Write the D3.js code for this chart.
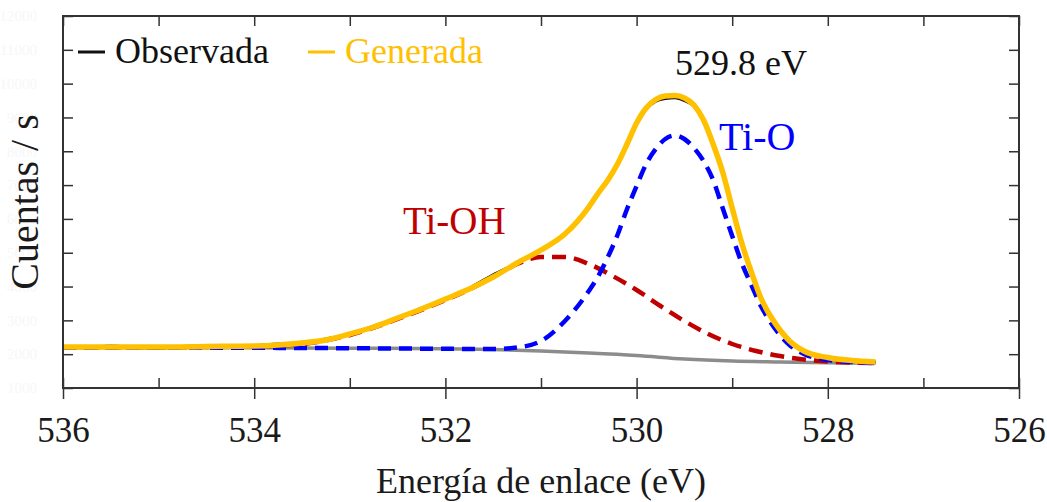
<!DOCTYPE html>
<html>
<head>
<meta charset="utf-8">
<script src="https://cdn.jsdelivr.net/npm/d3@7"></script>
<style>
  body { margin: 0; background: #fff; }
  svg text { font-family: "Liberation Serif", "Times New Roman", Times, "DejaVu Serif", serif; }
</style>
</head>
<body>
<div class="xps-container"></div>
<script>
// binding energy (eV) for the fitted curves
const energies = [536, 535.5, 535, 534.5, 534, 533.75, 533.5, 533.25, 533, 532.75, 532.5, 532.25,
  532, 531.75, 531.5, 531.25, 531, 530.75, 530.5, 530.4, 530.3, 530.2, 530.1, 530, 529.9, 529.8,
  529.7, 529.6, 529.5, 529.4, 529.3, 529.2, 529.1, 529, 528.9, 528.8, 528.7, 528.6, 528.5, 528.4,
  528.25, 528, 527.75, 527.5];

// envelope (Generada)
const generada = [2212, 2212, 2212, 2227, 2242, 2272, 2331, 2419, 2597, 2804, 3070, 3336,
  3632, 3927, 4282, 4696, 5081, 5554, 6352, 6766, 7151, 7624, 8215, 8836, 9280, 9531,
  9634, 9649, 9575, 9368, 8925, 8215, 7387, 6323, 5288, 4430, 3661, 3129, 2715, 2390,
  2094, 1902, 1813, 1769];

// Ti-O component
const tiO = [2198, 2198, 2198, 2194, 2189, 2186, 2183, 2180, 2177, 2172, 2168, 2163,
  2159, 2156, 2153, 2198, 2390, 2981, 3868, 4312, 4874, 5524, 6293, 6973, 7624, 8067,
  8363, 8466, 8363, 8097, 7712, 7151, 6323, 5495, 4696, 4046, 3425, 2952, 2567, 2272,
  2005, 1828, 1769, 1739];

// observed spectrum
const obsEnergies = [536, 535.75, 535.5, 535.25, 535, 534.75, 534.5, 534.25, 534, 533.75, 533.5,
  533.25, 533, 532.75, 532.5, 532.25, 532, 531.75, 531.5, 531.25, 531, 530.75, 530.5, 530.4,
  530.3, 530.2, 530.1, 530, 529.9, 529.8, 529.7, 529.6, 529.5, 529.4, 529.3, 529.2, 529.1,
  529, 528.9, 528.8, 528.7, 528.6, 528.5, 528.4, 528.25, 528, 527.75, 527.5];
const observada = [2230, 2190, 2240, 2200, 2180, 2220, 2210, 2260, 2250, 2300, 2310,
  2450, 2580, 2830, 3060, 3360, 3620, 3950, 4350, 4690, 5080, 5540, 6380, 6800,
  7180, 7650, 8230, 8820, 9250, 9480, 9560, 9580, 9500, 9330, 8900, 8230, 7400,
  6330, 5300, 4420, 3650, 3120, 2700, 2390, 2090, 1900, 1810, 1770];

// Ti-OH component
const ohEnergies = [536, 535, 534, 533.5, 533, 532.5, 532, 531.75, 531.5, 531.25, 531, 530.75,
  530.5, 530.25, 530, 529.75, 529.5, 529.25, 529, 528.75, 528.5, 528.25, 528, 527.75, 527.5];
const tiOH = [2198, 2204, 2227, 2301, 2567, 3040, 3602, 3913, 4282, 4667, 4874, 4874,
  4667, 4312, 3898, 3425, 2981, 2597, 2301, 2094, 1946, 1843, 1784, 1754, 1739];

// background
const bgEnergies = [536, 535, 534, 533, 532, 531.5, 531, 530.5, 530, 529.5, 529, 528.5, 528, 527.5];
const fondo = [2198, 2198, 2189, 2177, 2159, 2138, 2094, 2035, 1961, 1858, 1798, 1769, 1745, 1730];

const xTicksMajor = [536, 534, 532, 530, 528, 526];
const xTicksMinor = [536, 535, 534, 533, 532, 531, 530, 529, 528, 527, 526];
const yTicks = [1000, 2000, 3000, 4000, 5000, 6000, 7000, 8000, 9000, 10000, 11000, 12000];

const width = 1047, height = 502;
const margin = {left: 63, right: 28, top: 16, bottom: 114};
const serif = '"Liberation Serif", "Times New Roman", Times, "DejaVu Serif", serif';

const svg = d3.select('.xps-container')
  .append('svg')
  .attr('width', width)
  .attr('height', height)
  .attr('font-family', serif);

const xScale = d3.scaleLinear()
  .domain([536, 526])
  .range([margin.left, width - margin.right]);
const yScale = d3.scaleLinear()
  .domain([1000, 12000])
  .range([height - margin.bottom, margin.top]);

const zip = (xs, ys) => xs.map((e, i) => [e, ys[i]]);

const line = d3.line()
  .x(d => xScale(d[0]))
  .y(d => yScale(d[1]))
  .curve(d3.curveMonotoneX);

function placeLine(data, color, w, dash) {
  svg.append('path')
    .datum(data)
    .attr('fill', 'none')
    .attr('stroke', color)
    .attr('stroke-width', w)
    .attr('stroke-linejoin', 'round')
    .attr('stroke-dasharray', dash || null)
    .attr('d', line);
}

// curves, back to front
placeLine(zip(bgEnergies, fondo), '#8c8c8c', 3.5);
placeLine(zip(ohEnergies, tiOH), '#c00000', 4.5, '14,8');
placeLine(zip(energies, tiO), '#0000ff', 4.5, '13,8');
placeLine(zip(obsEnergies, observada), '#111', 3);
placeLine(zip(energies, generada), '#ffc000', 5.5);

// axes
const axisColor = '#333';
function styleAxis(g) {
  g.attr('font-family', serif);
  g.select('.domain').remove();
  g.selectAll('.tick line').attr('stroke', axisColor).attr('stroke-width', 1.5);
}

const yBottom = height - margin.bottom;
const xRight = width - margin.right;

svg.append('g')
  .attr('transform', 'translate(0,' + yBottom + ')')
  .call(d3.axisBottom(xScale).tickValues(xTicksMinor).tickSize(-10).tickFormat(''))
  .call(styleAxis);

svg.append('g')
  .attr('transform', 'translate(0,' + yBottom + ')')
  .call(d3.axisBottom(xScale).tickValues(xTicksMajor).tickSize(11).tickPadding(18).tickFormat(d3.format('d')))
  .call(styleAxis)
  .call(g => g.selectAll('text')
    .attr('fill', '#1a1a1a')
    .attr('font-size', 35));

svg.append('g')
  .attr('transform', 'translate(0,' + margin.top + ')')
  .call(d3.axisTop(xScale).tickValues(xTicksMinor).tickSize(-10).tickFormat(''))
  .call(styleAxis);

// y labels are almost white in the original
svg.append('g')
  .attr('transform', 'translate(' + margin.left + ',0)')
  .call(d3.axisLeft(yScale).tickValues(yTicks).tickSize(-10).tickPadding(26).tickFormat(d3.format('d')))
  .call(styleAxis)
  .call(g => g.selectAll('text')
    .attr('fill', '#f7f7f7')
    .attr('font-size', 15));

svg.append('g')
  .attr('transform', 'translate(' + xRight + ',0)')
  .call(d3.axisRight(yScale).tickValues(yTicks).tickSize(-10).tickFormat(''))
  .call(styleAxis);

svg.append('rect')
  .attr('x', margin.left)
  .attr('y', margin.top)
  .attr('width', xRight - margin.left)
  .attr('height', yBottom - margin.top)
  .attr('fill', 'none')
  .attr('stroke', axisColor)
  .attr('stroke-width', 2);

// axis titles
svg.append('text')
  .attr('x', (margin.left + xRight) / 2)
  .attr('y', 493)
  .attr('text-anchor', 'middle')
  .attr('font-size', 36)
  .attr('fill', '#1a1a1a')
  .text('Energía de enlace (eV)');

svg.append('text')
  .attr('transform', 'translate(38,' + ((margin.top + yBottom) / 2) + ') rotate(-90)')
  .attr('text-anchor', 'middle')
  .attr('font-size', 40)
  .attr('fill', '#1a1a1a')
  .text('Cuentas / s');

// legend
const legend = [
  {name: 'Observada', color: '#111', x: 78},
  {name: 'Generada', color: '#ffc000', x: 308}
];
legend.forEach(l => {
  svg.append('line')
    .attr('x1', l.x).attr('x2', l.x + 27)
    .attr('y1', 52).attr('y2', 52)
    .attr('stroke', l.color)
    .attr('stroke-width', 3);
  svg.append('text')
    .attr('x', l.x + 37)
    .attr('y', 63)
    .attr('font-size', 36)
    .attr('fill', l.color)
    .text(l.name);
});

// peak labels
svg.append('text').attr('x', 675).attr('y', 75).attr('font-size', 36).attr('fill', '#111').text('529.8 eV');
svg.append('text').attr('x', 719).attr('y', 150).attr('font-size', 40).attr('fill', '#0000ff').text('Ti-O');
svg.append('text').attr('x', 403).attr('y', 234).attr('font-size', 39).attr('fill', '#c00000').text('Ti-OH');
</script>
</body>
</html>
